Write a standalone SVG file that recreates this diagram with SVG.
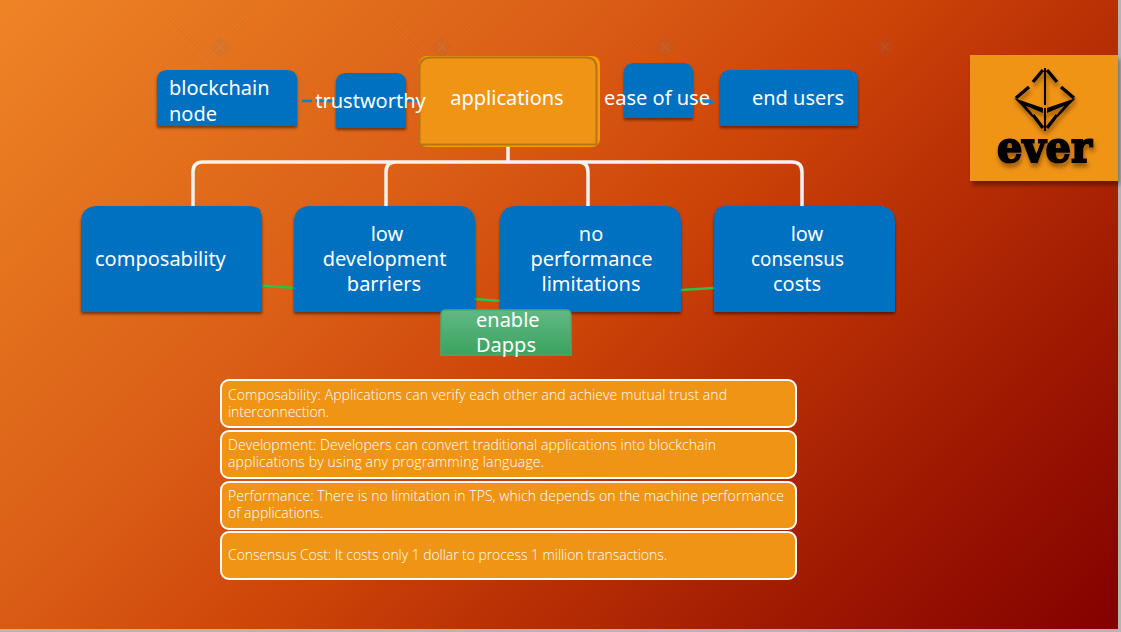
<svg xmlns="http://www.w3.org/2000/svg" width="1121" height="632" viewBox="0 0 1121 632">
<defs>
<linearGradient id="bg" gradientUnits="userSpaceOnUse" x1="0" y1="0" x2="873.5" y2="873.5">
<stop offset="0" stop-color="#f08526"/>
<stop offset="0.343" stop-color="#dc5f16"/>
<stop offset="0.515" stop-color="#cf4408"/>
<stop offset="0.63" stop-color="#bd3205"/>
<stop offset="0.8" stop-color="#a01a02"/>
<stop offset="1" stop-color="#850000"/>
</linearGradient>
<pattern id="hatch" patternUnits="userSpaceOnUse" width="4" height="4">
<path d="M-1 1L1 -1M0 4L4 0M3 5L5 3" stroke="#000" stroke-opacity="0.035" stroke-width="1"/>
</pattern>
<linearGradient id="green" x1="0" y1="0" x2="0" y2="1">
<stop offset="0" stop-color="#62b884"/>
<stop offset="1" stop-color="#3aa35f"/>
</linearGradient>
<filter id="sh" x="-10%" y="-10%" width="120%" height="125%">
<feDropShadow dx="0" dy="2" stdDeviation="1.5" flood-color="#000" flood-opacity="0.5"/>
</filter>
<filter id="lsh" x="-20%" y="-20%" width="140%" height="140%">
<feDropShadow dx="2" dy="4" stdDeviation="2" flood-color="#000" flood-opacity="0.4"/>
</filter>
<filter id="ish" x="-20%" y="-20%" width="140%" height="150%">
<feDropShadow dx="1" dy="4" stdDeviation="2" flood-color="#5a3000" flood-opacity="0.6"/>
</filter>
<g id="wm">
<path d="M0 -11L11 0L0 11L-11 0Z" fill="#777" fill-opacity="0.1"/>
<path d="M-4 -4L4 4M4 -4L-4 4" stroke="#fff" stroke-opacity="0.05" stroke-width="1.500"/>
<path d="M-50 -26L-20 4L-2 24M28 -26L16 -14" fill="none" stroke="#555" stroke-opacity="0.07" stroke-width="1"/>
</g>
</defs>
<style>
.t{font-family:"Noto Sans","DejaVu Sans",sans-serif;font-size:20px;fill:#fff;text-anchor:middle}
.s{text-anchor:start}
.d{font-family:"Open Sans","Noto Sans",sans-serif;font-weight:300;font-size:14px;fill:#fff}
.blue{fill:#0070c0;filter:url(#sh)}
.desc{fill:#f09415;stroke:#fff;stroke-width:2}
.tree{fill:none;stroke:#f2f2f2;stroke-width:3.5}
</style>
<rect width="1121" height="632" fill="#b5b5b5"/>
<rect width="1118" height="629" fill="url(#bg)"/>
<rect width="1118" height="629" fill="url(#hatch)"/>
<g id="watermarks">
<use href="#wm" x="220" y="47"/>
<use href="#wm" x="442" y="47"/>
<use href="#wm" x="665" y="47"/>
<use href="#wm" x="885" y="47"/>
</g>
<g id="connectors">
<path class="tree" d="M508 146V162M193 206V172Q193 162 203 162H792Q802 162 802 172V206M386 206V172Q386 162 396 162M578 162Q588 162 588 172V206"/>
<path d="M262 285.500L294 288M475 299L501 301M681 290L714 288" fill="none" stroke="#2bc24a" stroke-width="2.500"/>
<path d="M302 101H312M316 101H336M406 101H419" fill="none" stroke="#0a84c8" stroke-width="2.500"/>
<path d="M693 101H708" fill="none" stroke="#0a84c8" stroke-width="2.500"/>
<path d="M706 98L715 102L706 106Z" fill="#0a84c8"/>
</g>
<g id="blockchain-node"><path class="blue" d="M168 70H287Q297 70 297 80V126H157V80Q157 70 168 70Z"/><text class="t s" x="169" y="95">blockchain</text><text class="t s" x="169" y="121">node</text></g>
<g id="applications"><rect x="419" y="56" width="181" height="91" rx="8" fill="#f99b05"/><path d="M431 57.500H586Q596.500 57.500 596.500 68V144.500H419.500V68Q419.500 57.500 431 57.500Z" fill="#f09415" stroke="#b57512" stroke-width="2"/><text class="t" x="507" y="105">applications</text></g>
<g id="trustworthy"><path class="blue" d="M346 73H396Q406 73 406 83V128H336V83Q336 73 346 73Z"/><text class="t" x="370.500" y="108">trustworthy</text></g>
<g id="ease-of-use"><path class="blue" d="M634 63H683Q693 63 693 73V118H624V73Q624 63 634 63Z"/><text class="t" x="657" y="105">ease of use</text></g>
<g id="end-users"><path class="blue" d="M731 70H847Q858 70 858 81V126H720V81Q720 70 731 70Z"/><text class="t" x="798" y="105">end users</text></g>
<g id="composability"><path class="blue" d="M98 206H246Q258 206 260 210Q262 214 262 224V312H81V223Q81 206 98 206Z"/><text class="t s" x="95" y="266">composability</text></g>
<g id="low-development"><path class="blue" d="M311 206H458Q475 206 475 223V312H294V223Q294 206 311 206Z"/><text class="t" x="387" y="241">low</text><text class="t" x="384.500" y="266">development</text><text class="t" x="384" y="291">barriers</text></g>
<g id="no-performance"><path class="blue" d="M517 206H664Q681 206 681 223V312H500V223Q500 206 517 206Z"/><text class="t" x="591" y="241">no</text><text class="t" x="591.500" y="266">performance</text><text class="t" x="591" y="291">limitations</text></g>
<g id="low-consensus"><path class="blue" d="M728 206H878Q895 206 895 223V312H714V224Q714 214 716 210Q718 206 728 206Z"/><text class="t" x="807" y="241">low</text><text class="t" x="797.500" y="266" textLength="93" lengthAdjust="spacingAndGlyphs">consensus</text><text class="t" x="797" y="291">costs</text></g>
<g id="enable-dapps"><path d="M446 310H566Q571 310 571 315V355H441V315Q441 310 446 310Z" fill="url(#green)" stroke="#48ab6d" stroke-width="1.500"/><text class="t s" x="476" y="327">enable</text><text class="t s" x="476" y="352">Dapps</text></g>
<g id="desc-composability"><rect class="desc" x="221" y="380" width="575" height="47" rx="8"/><text class="d" x="228" y="399.500" textLength="499">Composability: Applications can verify each other and achieve mutual trust and</text><text class="d" x="228" y="416.500" textLength="101">interconnection.</text></g>
<g id="desc-development"><rect class="desc" x="221" y="431" width="575" height="47" rx="8"/><text class="d" x="228" y="450" textLength="488">Development: Developers can convert traditional applications into blockchain</text><text class="d" x="228" y="467" textLength="316">applications by using any programming language.</text></g>
<g id="desc-performance"><rect class="desc" x="221" y="482" width="575" height="47" rx="8"/><text class="d" x="228" y="501" textLength="556">Performance: There is no limitation in TPS, which depends on the machine performance</text><text class="d" x="228" y="518" textLength="95">of applications.</text></g>
<g id="desc-consensus"><rect class="desc" x="221" y="532" width="575" height="47" rx="8"/><text class="d" x="228" y="560" textLength="439">Consensus Cost: It costs only 1 dollar to process 1 million transactions.</text></g>
<g id="logo"><rect x="970" y="55" width="148" height="126" fill="#f09415" filter="url(#lsh)"/>
<g filter="url(#ish)">
<g fill="none" stroke="#000" stroke-width="3.500">
<path d="M1043 70L1033 82M1029 87L1016 98M1047 70L1057 82M1061 87L1074 98M1033 115L1043 128M1057 115L1047 128"/>
</g>
<path d="M1044 68H1046V105H1044ZM1044 108H1046V131H1044Z" fill="#000"/>
<path d="M1014 98L1043 108V113L1026 106L1035 117L1032 117L1020 104ZM1076 98L1047 108V113L1064 106L1055 117L1058 117L1070 104Z" fill="#000"/>
</g>
<text x="1044.500" y="162" font-family="'DejaVu Serif','Liberation Serif',serif" font-weight="700" font-size="42" fill="#000" text-anchor="middle" textLength="95" lengthAdjust="spacingAndGlyphs" stroke="#000" stroke-width="2" filter="url(#ish)">ever</text>
</g>
</svg>
